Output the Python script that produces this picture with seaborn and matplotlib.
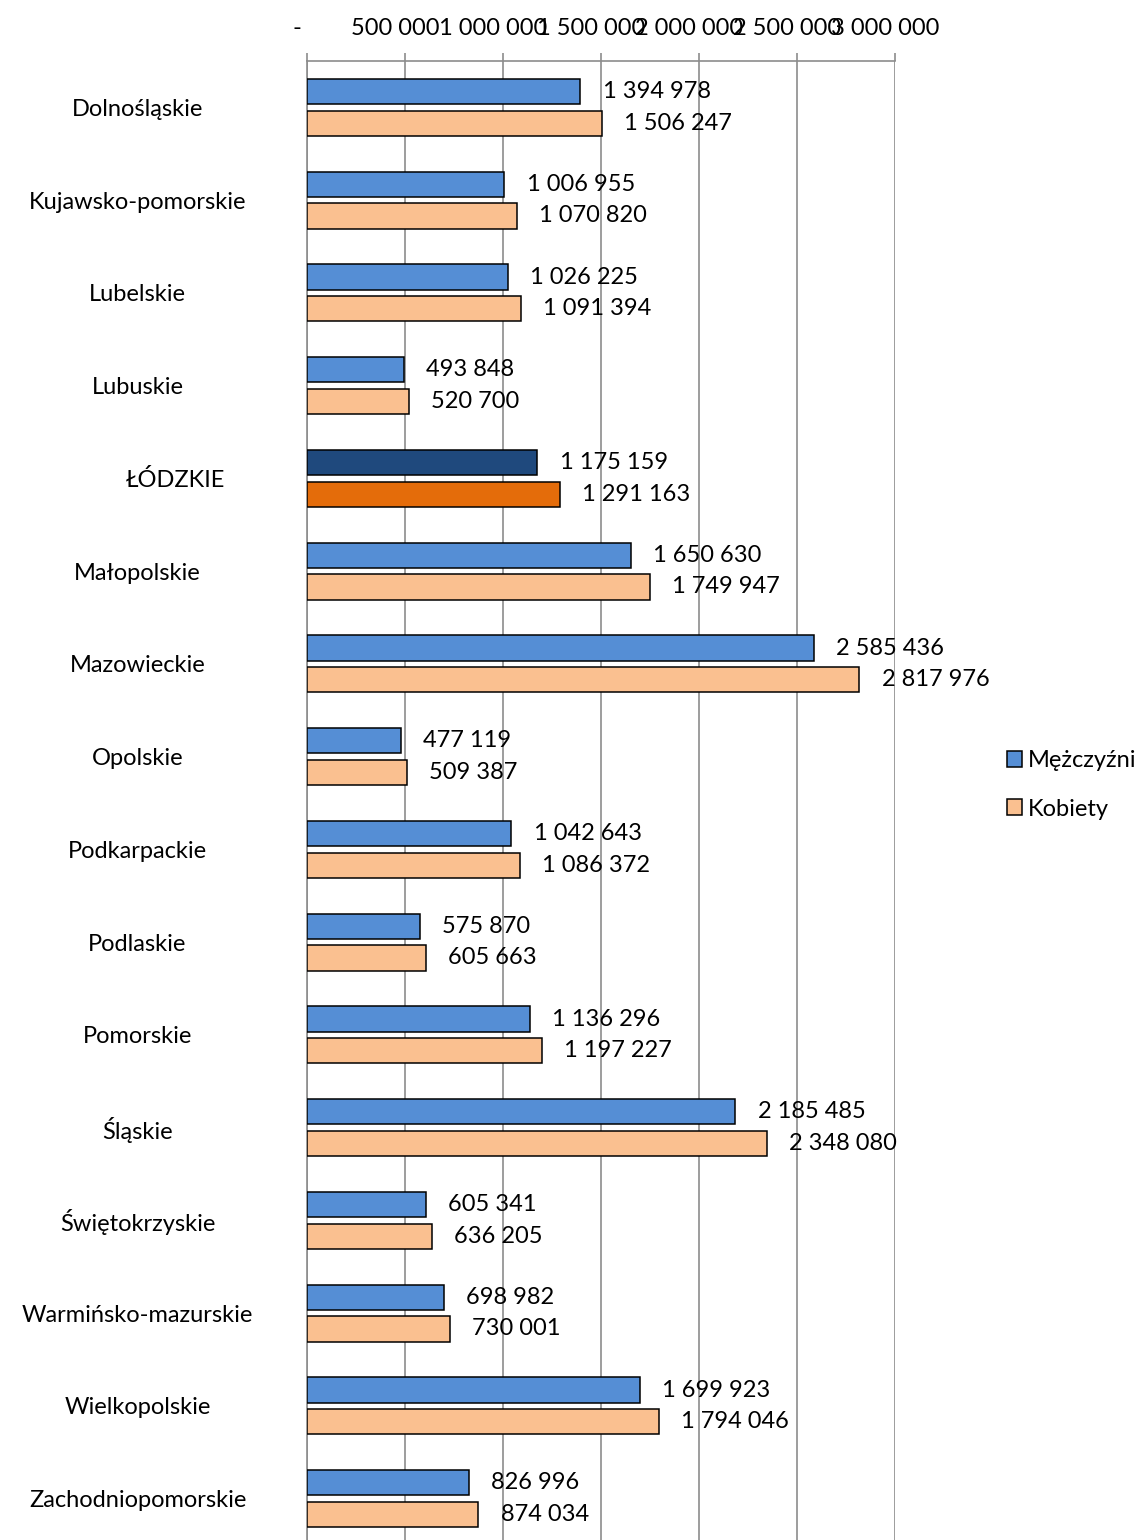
import numpy as np
import pandas as pd
import matplotlib
matplotlib.use("Agg")
import matplotlib.pyplot as plt
import matplotlib.transforms as mtransforms
from matplotlib.patches import Patch
import seaborn as sns

regions = ["Dolnośląskie", "Kujawsko-pomorskie", "Lubelskie", "Lubuskie", "ŁÓDZKIE",
           "Małopolskie", "Mazowieckie", "Opolskie", "Podkarpackie", "Podlaskie",
           "Pomorskie", "Śląskie", "Świętokrzyskie", "Warmińsko-mazurskie",
           "Wielkopolskie", "Zachodniopomorskie"]
men = [1394978, 1006955, 1026225, 493848, 1175159, 1650630, 2585436, 477119,
       1042643, 575870, 1136296, 2185485, 605341, 698982, 1699923, 826996]
women = [1506247, 1070820, 1091394, 520700, 1291163, 1749947, 2817976, 509387,
         1086372, 605663, 1197227, 2348080, 636205, 730001, 1794046, 874034]
series = ["Mężczyźni", "Kobiety"]
xticks = [0, 500000, 1000000, 1500000, 2000000, 2500000, 3000000]
xtick_labels = ["-", "500 000", "1 000 000", "1 500 000", "2 000 000", "2 500 000", "3 000 000"]

df = pd.DataFrame({
    "region": regions * 2,
    "sex": [series[0]] * len(regions) + [series[1]] * len(regions),
    "value": men + women,
})

sns.set_style("white")
plt.rcParams["font.family"] = ["Lato", "DejaVu Sans"]
plt.rcParams["text.color"] = "black"
plt.rcParams["xtick.labelcolor"] = "black"
plt.rcParams["ytick.labelcolor"] = "black"
FS = 17
grid_col = "#8c8c8c"

fig = plt.figure(figsize=(11.44, 15.4), dpi=100)
ax = fig.add_axes([307 / 1144, -5 / 1540, (895 - 307) / 1144, (1545 - 61) / 1540])

sns.barplot(data=df, y="region", x="value", hue="sex", orient="h",
            palette=["#558ED5", "#FAC090"], saturation=1, edgecolor="black", linewidth=1.1,
            width=0.68, gap=0.2, ax=ax, legend=False, zorder=3)

# highlight Łódź
idx = regions.index("ŁÓDZKIE")
ax.containers[0][idx].set_facecolor("#1F497D")
ax.containers[1][idx].set_facecolor("#E46C0A")

fmt = lambda v: f"{v:,}".replace(",", " ")
ax.bar_label(ax.containers[0], labels=[fmt(v) for v in men], padding=16, fontsize=FS, color="black")
ax.bar_label(ax.containers[1], labels=[fmt(v) for v in women], padding=16, fontsize=FS, color="black")

ax.set_xlim(0, 3000000)
ax.set_ylim(len(regions) - 0.5, -0.5)
ax.xaxis.tick_top()
ax.set_xticks(xticks)
ax.set_xticklabels(xtick_labels, fontsize=FS)
ax.tick_params(axis="x", which="major", direction="out", length=6, width=1.2,
               color=grid_col, pad=10)
off = mtransforms.ScaledTranslation(-10 / 100, 0, fig.dpi_scale_trans)
for lab in ax.get_xticklabels():
    lab.set_transform(lab.get_transform() + off)
ax.grid(axis="x", color=grid_col, linewidth=1.2, zorder=0)
ax.set_axisbelow(True)

ax.set_yticks(range(len(regions)))
ax.set_yticklabels(regions, fontsize=FS, ha="center")
ax.tick_params(axis="y", which="major", length=0, pad=122)
ax.set_yticks(np.arange(-0.5, len(regions), 1), minor=True)
ax.tick_params(axis="y", which="minor", direction="out", length=6, width=1.2, color=grid_col)
lodz_off = mtransforms.ScaledTranslation(38 / 100, 0, fig.dpi_scale_trans)
lab = ax.get_yticklabels()[idx]
lab.set_transform(lab.get_transform() + lodz_off)

ax.set_xlabel("")
ax.set_ylabel("")
for s in ["right", "bottom"]:
    ax.spines[s].set_visible(False)
for s in ["top", "left"]:
    ax.spines[s].set_color(grid_col)
    ax.spines[s].set_linewidth(1.2)

handles = [Patch(facecolor="#558ED5", edgecolor="black", linewidth=1.1),
           Patch(facecolor="#FAC090", edgecolor="black", linewidth=1.1)]
fig.legend(handles, series, loc="center left", bbox_to_anchor=(995 / 1144, 1 - 785 / 1540),
           frameon=False, fontsize=FS, handlelength=0.65, handleheight=0.65,
           handletextpad=0.25, labelspacing=1.15, borderpad=0)

fig.savefig("out.png", dpi=100)
